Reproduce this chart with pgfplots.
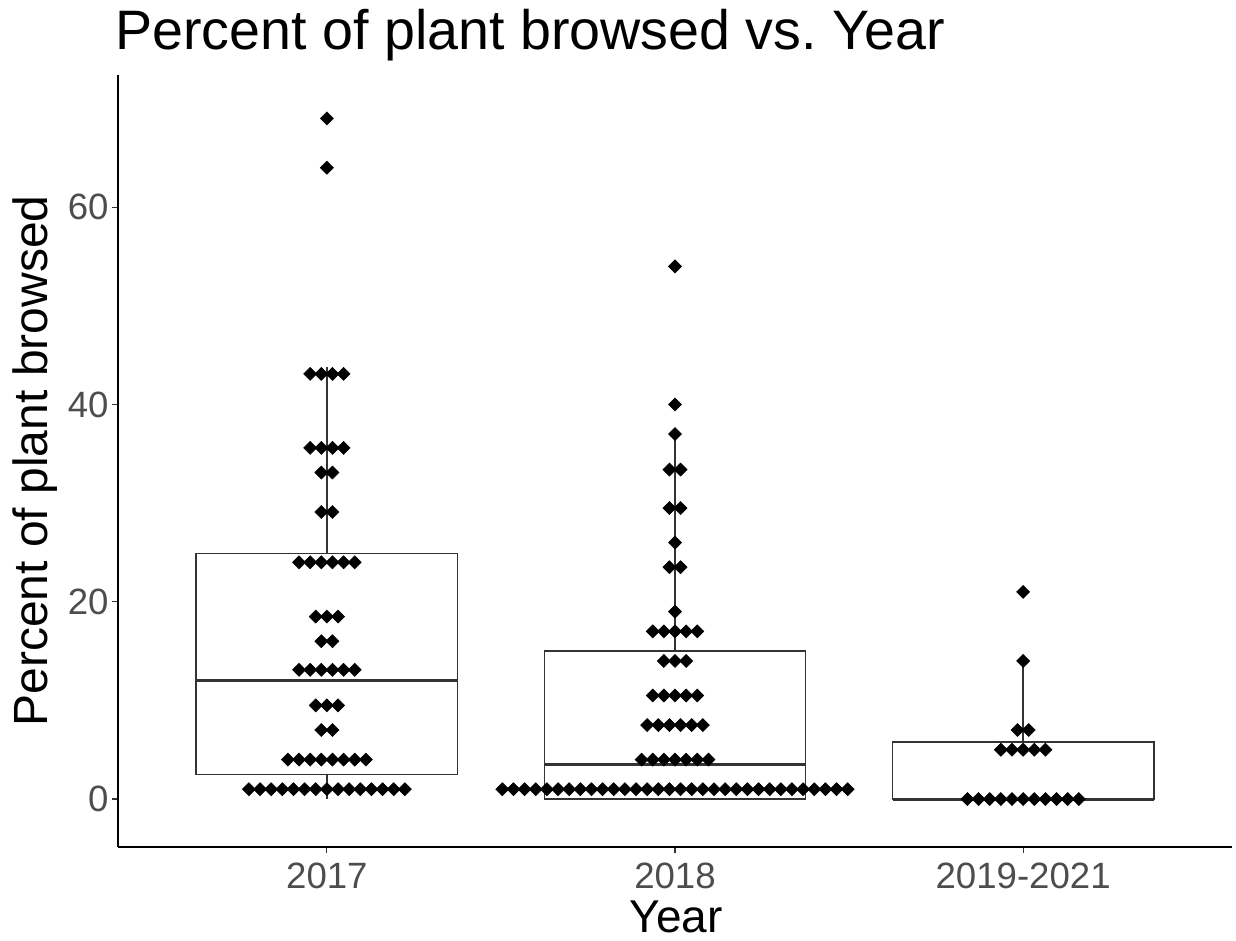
\documentclass[border=0pt]{standalone}
\usepackage{pgfplots}
\pgfplotsset{compat=1.18}
\usepgfplotslibrary{statistics}
\usepackage{pgfplotstable}
\usepackage{fontspec}
\setmainfont{Liberation Sans}

\definecolor{grey20}{HTML}{333333}
\definecolor{grey30}{HTML}{4D4D4D}

% Dot-plot stacks: x = group position plus stacking offset, y = bin centre
\pgfplotstableread{
x y
1.000 69.0
1.000 64.0
0.952 43.1
0.984 43.1
1.016 43.1
1.048 43.1
0.952 35.6
0.984 35.6
1.016 35.6
1.048 35.6
0.984 33.1
1.016 33.1
0.984 29.1
1.016 29.1
0.920 24.0
0.952 24.0
0.984 24.0
1.016 24.0
1.048 24.0
1.080 24.0
0.968 18.5
1.000 18.5
1.032 18.5
0.984 16.0
1.016 16.0
0.920 13.1
0.952 13.1
0.984 13.1
1.016 13.1
1.048 13.1
1.080 13.1
0.968 9.5
1.000 9.5
1.032 9.5
0.984 7.0
1.016 7.0
0.888 4.0
0.920 4.0
0.952 4.0
0.984 4.0
1.016 4.0
1.048 4.0
1.080 4.0
1.112 4.0
0.776 1.0
0.808 1.0
0.840 1.0
0.872 1.0
0.904 1.0
0.936 1.0
0.968 1.0
1.000 1.0
1.032 1.0
1.064 1.0
1.096 1.0
1.128 1.0
1.160 1.0
1.192 1.0
1.224 1.0
}\dotsA

\pgfplotstableread{
x y
2.000 54.0
2.000 40.0
2.000 37.0
1.984 33.4
2.016 33.4
1.984 29.5
2.016 29.5
2.000 26.0
1.984 23.5
2.016 23.5
2.000 19.0
1.936 17.0
1.968 17.0
2.000 17.0
2.032 17.0
2.064 17.0
1.968 14.0
2.000 14.0
2.032 14.0
1.936 10.5
1.968 10.5
2.000 10.5
2.032 10.5
2.064 10.5
1.920 7.5
1.952 7.5
1.984 7.5
2.016 7.5
2.048 7.5
2.080 7.5
1.904 4.0
1.936 4.0
1.968 4.0
2.000 4.0
2.032 4.0
2.064 4.0
2.096 4.0
1.504 1.0
1.536 1.0
1.568 1.0
1.600 1.0
1.632 1.0
1.664 1.0
1.696 1.0
1.728 1.0
1.760 1.0
1.792 1.0
1.824 1.0
1.856 1.0
1.888 1.0
1.920 1.0
1.952 1.0
1.984 1.0
2.016 1.0
2.048 1.0
2.080 1.0
2.112 1.0
2.144 1.0
2.176 1.0
2.208 1.0
2.240 1.0
2.272 1.0
2.304 1.0
2.336 1.0
2.368 1.0
2.400 1.0
2.432 1.0
2.464 1.0
2.496 1.0
}\dotsB

\pgfplotstableread{
x y
3.000 21.0
3.000 14.0
2.984 7.0
3.016 7.0
2.936 5.0
2.968 5.0
3.000 5.0
3.032 5.0
3.064 5.0
2.840 0.0
2.872 0.0
2.904 0.0
2.936 0.0
2.968 0.0
3.000 0.0
3.032 0.0
3.064 0.0
3.096 0.0
3.128 0.0
3.160 0.0
}\dotsC

\begin{document}
\begin{tikzpicture}
\begin{axis}[
  scale only axis,
  width=557pt, height=386pt,
  xmin=0.4, xmax=3.6,
  ymin=-4.86, ymax=73.4,
  axis x line*=bottom, axis y line*=left,
  axis line style={black, line width=0.75pt, -},
  xtick={1,2,3},
  xticklabels={2017,2018,2019-2021},
  ytick={0,20,40,60},
  tick align=outside,
  major tick length=3pt,
  tick style={grey20, line width=0.6pt},
  /pgf/number format/assume math mode=true,
  ticklabel style={font=\fontsize{18.3}{18.3}\selectfont, text=grey30},
  xticklabel style={anchor=north, inner sep=0pt, yshift=-5pt},
  yticklabel style={anchor=east, inner sep=0pt, xshift=-1.5pt},
  boxplot/draw direction=y,
  boxplot/every median/.style={line width=1.5pt},
  clip=false,
]
\coordinate (O) at (rel axis cs:0,0);

% Boxes (ggplot style: no whisker caps)
\addplot[draw=grey20, line width=0.85pt, fill=white,
  boxplot prepared={draw position=1, lower whisker=0, lower quartile=2.5,
    median=12, upper quartile=24.9, upper whisker=43.8,
    box extend=0.75, whisker extend=0}] coordinates {};
\addplot[draw=grey20, line width=0.85pt, fill=white,
  boxplot prepared={draw position=2, lower whisker=0, lower quartile=0,
    median=3.5, upper quartile=15, upper whisker=37,
    box extend=0.75, whisker extend=0}] coordinates {};
\addplot[draw=grey20, line width=0.85pt, fill=white,
  boxplot prepared={draw position=3, lower whisker=0, lower quartile=0,
    median=0, upper quartile=5.8, upper whisker=14,
    box extend=0.75, whisker extend=0}] coordinates {};

% Dots
\pgfplotsset{dotstyle/.style={only marks, mark=square*, mark size=2.3pt,
  mark options={rotate=45, fill=black, draw=black, rounded corners=0.7pt, line width=0.3pt}}}
\addplot[dotstyle] table {\dotsA};
\addplot[dotstyle] table {\dotsB};
\addplot[dotstyle] table {\dotsC};
\end{axis}

\node[anchor=base west, inner sep=0pt, font=\fontsize{27.8}{27.8}\selectfont]
  at ([shift={(-1.5pt,398.5pt)}]O) {Percent of plant browsed vs.\ Year};
\node[anchor=base, inner sep=0pt, font=\fontsize{23}{23}\selectfont]
  at ([shift={(279pt,-42.8pt)}]O) {Year};
\node[anchor=base, inner sep=0pt, rotate=90, font=\fontsize{24}{24}\selectfont]
  at ([shift={(-35pt,193pt)}]O) {Percent of plant browsed};

\pgfresetboundingbox
\path ([shift={(-59pt,-47pt)}]O) rectangle ++(618pt,470.5pt);
\end{tikzpicture}
\end{document}
